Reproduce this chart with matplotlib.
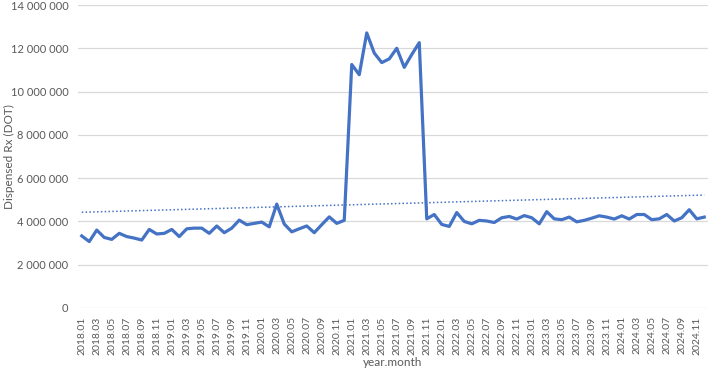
import numpy as np
import matplotlib.pyplot as plt

plt.rcParams['font.family'] = ['Lato', 'DejaVu Sans']

# monthly dispensed Rx (millions), 2018.01 .. 2024.12
dot_2018 = [3.33, 3.07, 3.60, 3.26, 3.17, 3.45, 3.30, 3.23, 3.14, 3.63, 3.42, 3.45]
dot_2019 = [3.63, 3.30, 3.66, 3.69, 3.69, 3.45, 3.79, 3.48, 3.69, 4.06, 3.85, 3.91]
dot_2020 = [3.97, 3.75, 4.80, 3.88, 3.52, 3.66, 3.79, 3.48, 3.85, 4.21, 3.91, 4.05]
dot_2021 = [11.25, 10.78, 12.71, 11.78, 11.34, 11.51, 12.00, 11.12, 11.71, 12.26, 4.12, 4.32]
dot_2022 = [3.86, 3.77, 4.41, 4.00, 3.89, 4.05, 4.02, 3.95, 4.17, 4.23, 4.11, 4.27]
dot_2023 = [4.17, 3.89, 4.45, 4.12, 4.08, 4.20, 3.98, 4.05, 4.15, 4.26, 4.20, 4.11]
dot_2024 = [4.26, 4.11, 4.32, 4.32, 4.08, 4.12, 4.32, 4.02, 4.17, 4.54, 4.12, 4.20]

years = [2018, 2019, 2020, 2021, 2022, 2023, 2024]
labels = [f"{y}.{m:02d}" for y in years for m in range(1, 13)]
values = np.array(dot_2018 + dot_2019 + dot_2020 + dot_2021 + dot_2022 + dot_2023 + dot_2024) * 1e6

x = np.arange(len(values))
# linear trendline, as in the spreadsheet
k, b = np.polyfit(x, values, 1)

blue = '#4472C4'
grey = '#595959'

fig = plt.figure(figsize=(7.12, 3.72), dpi=100)
ax = fig.add_axes([78 / 712, 1 - 308 / 372, 630 / 712, 303 / 372])

ax.plot(x, values, color=blue, lw=2.3, solid_joinstyle='round', zorder=3)
ax.plot(x, k * x + b, color=blue, lw=1.1, ls=(0, (1, 1.5)), zorder=2)

ax.set_xlim(-0.5, len(values) - 0.5)
ax.set_ylim(0, 14e6)
ax.set_yticks(np.arange(0, 14e6 + 1, 2e6))
ax.set_yticklabels([f"{int(v):,}".replace(',', ' ') for v in np.arange(0, 14e6 + 1, 2e6)],
                   color=grey, fontsize=8)
ax.set_xticks(x[::2])
ax.set_xticklabels(labels[::2], rotation=90, color=grey, fontsize=7.5)
ax.tick_params(length=0, pad=6)
ax.tick_params(axis='y', pad=7)

ax.grid(axis='y', color='#d9d9d9', lw=0.9)
ax.set_axisbelow(True)
for s in ax.spines.values():
    s.set_visible(False)

ax.set_xlabel('year.month', color=grey, fontsize=8.5, labelpad=2)
ax.set_ylabel('Dispensed Rx (DOT)', color=grey, fontsize=8.5)
ax.yaxis.set_label_coords(-63 / 630, 0.5)

fig.savefig('out.png', dpi=100)
